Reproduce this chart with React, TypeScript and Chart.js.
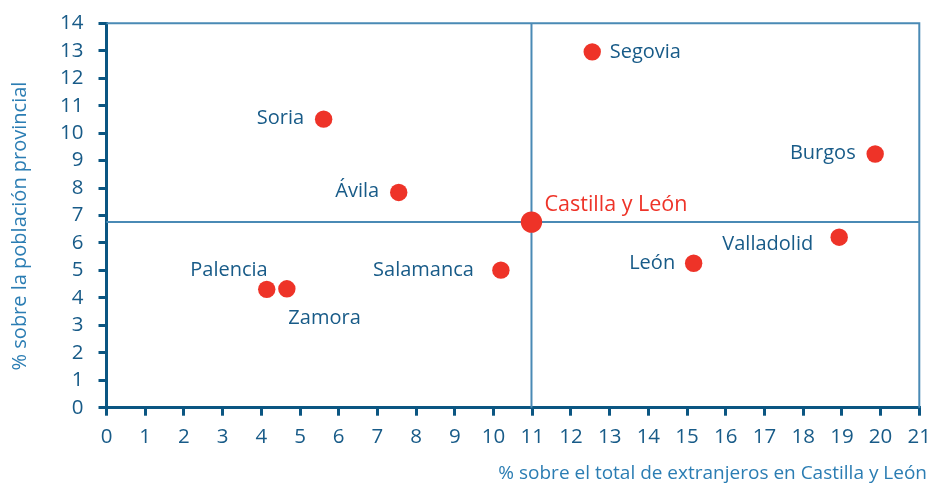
import React, { useEffect, useRef } from "react";
import { Chart, registerables } from "chart.js";

Chart.register(...registerables);

// ---- data ----
const provinces = ["Segovia", "Soria", "Ávila", "Burgos", "Valladolid", "León", "Salamanca", "Palencia", "Zamora"];
const foreignShare = [12.55, 5.61, 7.55, 19.86, 18.93, 15.17, 10.19, 4.14, 4.66];
const populationShare = [12.96, 10.51, 7.84, 9.24, 6.21, 5.26, 5.01, 4.31, 4.33];
const regionName = "Castilla y León";
const regionForeignShare = 10.98;
const regionPopulationShare = 6.76;
const xTitle = "% sobre el total de extranjeros en Castilla y León";
const yTitle = "% sobre la población provincial";

// ---- label placement (styling) ----
const labelPlacement: { align: CanvasTextAlign; dx: number; dy: number }[] = [
  { align: "left", dx: 17.5, dy: -1 },
  { align: "right", dx: -19.5, dy: -2 },
  { align: "right", dx: -19.5, dy: -2 },
  { align: "right", dx: -19.5, dy: -2 },
  { align: "right", dx: -26, dy: 6 },
  { align: "right", dx: -18.5, dy: -1 },
  { align: "right", dx: -27, dy: -1 },
  { align: "right", dx: 1, dy: -20 },
  { align: "left", dx: 1.5, dy: 28 },
];

const FONT = "'Open Sans', 'Noto Sans', sans-serif";
const DARK = "#0b5682";
const TEXT = "#185b88";
const LIGHT = "#4a8ab5";
const TITLE = "#2b7db3";
const RED = "#ee3328";

const overlay = {
  id: "overlay",
  beforeDatasetsDraw(chart: any) {
    const { ctx, chartArea: a, scales } = chart;
    const cx = scales.x.getPixelForValue(regionForeignShare);
    const cy = scales.y.getPixelForValue(regionPopulationShare);
    ctx.save();
    ctx.strokeStyle = LIGHT;
    ctx.lineWidth = 2;
    ctx.beginPath();
    ctx.moveTo(a.left, a.top);
    ctx.lineTo(a.right, a.top);
    ctx.lineTo(a.right, a.bottom);
    ctx.moveTo(cx, a.top);
    ctx.lineTo(cx, a.bottom);
    ctx.moveTo(a.left, cy);
    ctx.lineTo(a.right, cy);
    ctx.stroke();
    ctx.restore();
  },
  afterDraw(chart: any) {
    const { ctx, scales } = chart;
    ctx.save();
    ctx.textBaseline = "alphabetic";
    ctx.font = `20px ${FONT}`;
    ctx.fillStyle = TEXT;
    provinces.forEach((name, i) => {
      const px = scales.x.getPixelForValue(foreignShare[i]);
      const py = scales.y.getPixelForValue(populationShare[i]);
      const p = labelPlacement[i];
      ctx.textAlign = p.align;
      ctx.fillText(name, px + p.dx, py + p.dy + 7);
    });
    const rx = scales.x.getPixelForValue(regionForeignShare);
    const ry = scales.y.getPixelForValue(regionPopulationShare);
    ctx.font = `21.5px ${FONT}`;
    ctx.fillStyle = RED;
    ctx.textAlign = "left";
    ctx.fillText(regionName, rx + 13, ry - 19 + 7.5);

    // axis titles
    ctx.fillStyle = TITLE;
    ctx.font = `19px ${FONT}`;
    ctx.textAlign = "right";
    ctx.fillText(xTitle, 927, 479);
    ctx.translate(26, 226);
    ctx.rotate(-Math.PI / 2);
    ctx.font = `20px ${FONT}`;
    ctx.textAlign = "center";
    ctx.fillText(yTitle, 0, 0);
    ctx.restore();
  },
};

export default function App() {
  const ref = useRef<HTMLCanvasElement>(null);
  useEffect(() => {
    document.body.style.margin = "0";
    const chart = new Chart(ref.current!, {
      type: "scatter",
      data: {
        datasets: [
          {
            data: provinces.map((_, i) => ({ x: foreignShare[i], y: populationShare[i] })),
            backgroundColor: RED,
            borderWidth: 0,
            pointRadius: 8.7,
          },
          {
            data: [{ x: regionForeignShare, y: regionPopulationShare }],
            backgroundColor: RED,
            borderWidth: 0,
            pointRadius: 10.7,
          },
        ],
      },
      options: {
        animation: false,
        responsive: false,
        layout: { padding: { top: 23.3, right: 10.7, left: 0, bottom: 0 } },
        plugins: { legend: { display: false }, tooltip: { enabled: false } },
        scales: {
          x: {
            type: "linear",
            min: 0,
            max: 21,
            afterFit: (s: any) => {
              s.height = 484 - 407.7;
              s.paddingLeft = 0;
              s.paddingRight = 0;
            },
            ticks: { stepSize: 1, autoSkip: false, maxRotation: 0, color: TEXT, font: { family: FONT, size: 20.5 }, padding: 9 },
            grid: { drawOnChartArea: false, drawTicks: true, tickLength: 8, color: DARK, lineWidth: 3 },
            border: { display: true, color: DARK, width: 3 },
          },
          y: {
            type: "linear",
            min: 0,
            max: 14,
            afterFit: (s: any) => {
              s.width = 106.5;
              s.paddingTop = 0;
              s.paddingBottom = 0;
            },
            ticks: { stepSize: 1, autoSkip: false, color: TEXT, font: { family: FONT, size: 20.5 }, padding: 15 },
            grid: { drawOnChartArea: false, drawTicks: true, tickLength: 8, color: DARK, lineWidth: 3 },
            border: { display: true, color: DARK, width: 3 },
          },
        },
      },
      plugins: [overlay],
    });
    return () => chart.destroy();
  }, []);
  return (
    <div style={{ position: "absolute", left: 0, top: 0, width: 930, height: 484 }}>
      <canvas ref={ref} width={930} height={484} style={{ width: 930, height: 484 }} />
    </div>
  );
}
